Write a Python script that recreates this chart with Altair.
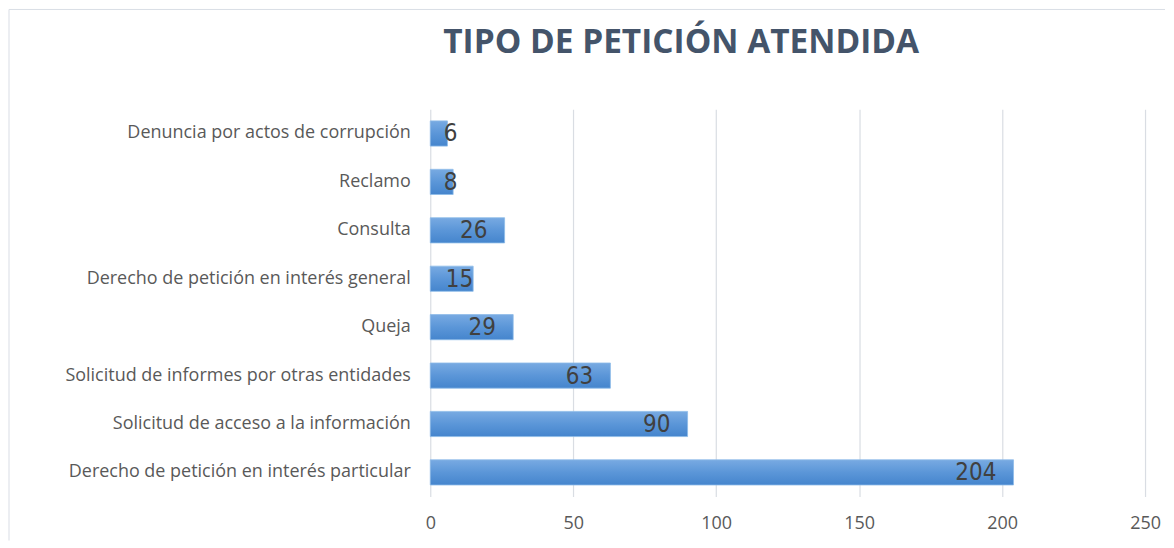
import altair as alt
import pandas as pd

title_text = "TIPO DE PETICIÓN ATENDIDA"
categories = [
    "Denuncia por actos de corrupción",
    "Reclamo",
    "Consulta",
    "Derecho de petición en interés general",
    "Queja",
    "Solicitud de informes por otras entidades",
    "Solicitud de acceso a la información",
    "Derecho de petición en interés particular",
]
values = [6, 8, 26, 15, 29, 63, 90, 204]
x_ticks = [0, 50, 100, 150, 200, 250]

df = pd.DataFrame({"tipo": categories, "valor": values})

y_enc = alt.Y("tipo:N", sort=categories, title=None,
              scale=alt.Scale(paddingInner=0.48, paddingOuter=0.24),
              axis=alt.Axis(ticks=False, domain=False, grid=False, labelPadding=20,
                            labelFont="Open Sans", labelFontSize=18, labelColor="#595959",
                            labelLimit=500))
x_enc = alt.X("valor:Q", title=None,
              scale=alt.Scale(domain=[0, 250], nice=False),
              axis=alt.Axis(values=x_ticks, ticks=False, domain=False, grid=True,
                            gridColor="#d9dde3", gridWidth=1.2, labelPadding=18,
                            labelFlush=False,
                            labelFont="Open Sans", labelFontSize=18, labelColor="#595959"))

bars = alt.Chart(df).mark_bar(
    color=alt.Gradient(gradient="linear", x1=0, x2=0, y1=0, y2=1,
                       stops=[alt.GradientStop(color="#78aae2", offset=0),
                              alt.GradientStop(color="#5b96d8", offset=0.5),
                              alt.GradientStop(color="#4585cd", offset=1)]),
    stroke="#8dbbe9", strokeWidth=0.8,
).encode(x=x_enc, y=y_enc)

labels = alt.Chart(df).transform_calculate(
    pos="datum.valor >= 20 ? datum.valor - 6 : max(datum.valor, 9.5)"
).mark_text(
    align="right", baseline="middle", font="Liberation Sans Narrow, DejaVu Sans Condensed",
    fontSize=24, color="#404040", dy=1
).encode(
    x=alt.X("pos:Q", title=None),
    y=alt.Y("tipo:N", sort=categories, title=None),
    text=alt.Text("valor:Q"),
)

one = pd.DataFrame({"k": [0]})

# chart title (as a text mark, so the outer frame does not push it around)
title_mark = alt.Chart(one).mark_text(
    text=title_text, font="Open Sans", fontSize=33.5, fontWeight="bold",
    color="#44546A", align="left", baseline="alphabetic",
).encode(x=alt.value(13), y=alt.value(-56))

# light outer frame of the chart area (left and top edges are visible in the reference)
frame_left = alt.Chart(one).mark_rule(color="#d9dee5", strokeWidth=1).encode(
    x=alt.value(-422), y=alt.value(-100), y2=alt.value(432))
frame_top = alt.Chart(one).mark_rule(color="#d9dee5", strokeWidth=1).encode(
    x=alt.value(-422), x2=alt.value(736), y=alt.value(-100))

chart = alt.layer(frame_left, frame_top, title_mark, bars, labels).properties(
    width=716, height=388,
    background="white",
    padding={"left": 0, "top": 0, "right": 0, "bottom": 0},
).configure_view(strokeWidth=0, stroke="transparent")

chart.save("out.html", embed_options={"renderer": "svg", "actions": False})
